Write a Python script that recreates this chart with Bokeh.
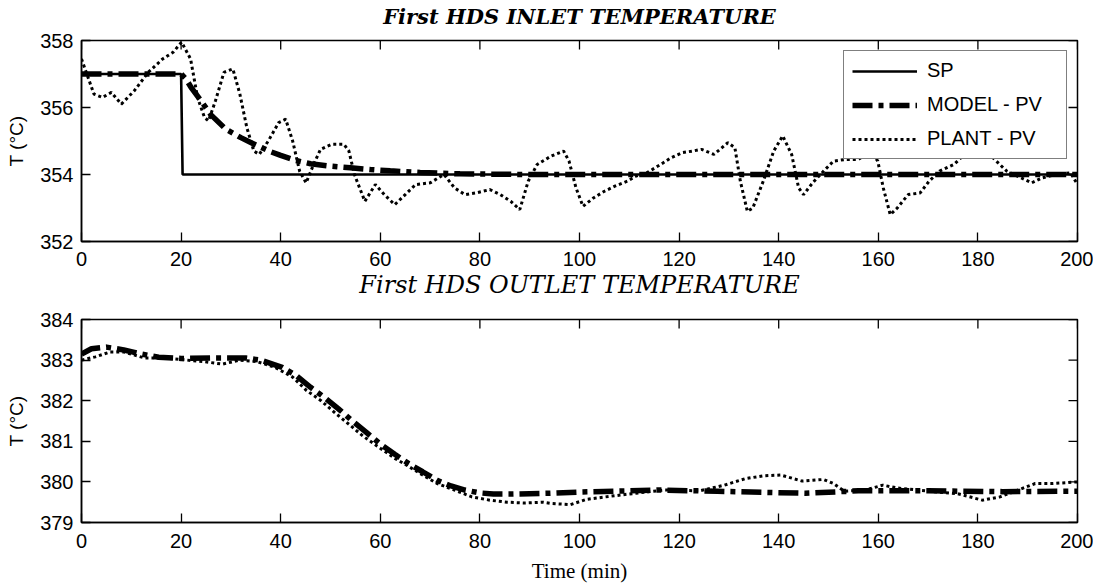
import numpy as np
from bokeh.plotting import figure
from bokeh.layouts import column
from bokeh.models import Range1d, Legend, LegendItem, FixedTicker, LinearAxis
from bokeh.embed import file_html
from bokeh.resources import INLINE

# ---------------- data ----------------
x_ticks = [0, 20, 40, 60, 80, 100, 120, 140, 160, 180, 200]
inlet_ticks = [352, 354, 356, 358]
outlet_ticks = [379, 380, 381, 382, 383, 384]

# Inlet: set point
t_sp = [0, 20, 20.3, 200]
sp_in = [357, 357, 354, 354]

# Inlet: model PV
t_model_in = [0, 20, 21, 22, 24, 26, 29, 32, 35, 38, 40, 43, 46, 50, 54, 58, 62, 68, 76, 90, 200]
model_in = [357, 357, 356.85, 356.6, 356.2, 355.78, 355.35, 355.1, 354.88, 354.68, 354.57, 354.42,
            354.32, 354.25, 354.2, 354.15, 354.11, 354.06, 354.02, 354.0, 354.0]

# Inlet: plant PV
t_plant_in = [0, 2.5, 4.2, 6, 8, 10.6, 13.4, 16.3, 18.4, 20.1, 21.9, 23.3, 24.7, 25.5, 26.9, 28.6,
              30.4, 31.8, 33.2, 34.6, 35.7, 37.5, 39.6, 41, 42.4, 43.8, 45.1, 46.6, 48, 50.2, 52.7,
              53.7, 54.8, 56.9, 59, 60.8, 62.9, 65, 67.1, 70, 72.8, 74.9, 77, 79.2, 82, 84.1, 86.2,
              88, 89.7, 91.5, 94.3, 96.8, 97.9, 99.3, 100.7, 102.8, 105, 107.1, 109.6, 111.3, 113.5,
              116.3, 118.4, 120.6, 122.7, 124.5, 127, 129.8, 131.2, 132.3, 133.7, 134.8, 136.9, 139,
              140.8, 142.6, 144, 145, 146.8, 149, 151, 153.5, 156, 158.5, 159.9, 161, 162.4, 163.8,
              166, 168.4, 170.2, 172.3, 175.2, 177.3, 180.1, 183, 185.8, 188.7, 190.8, 192.9, 195.7,
              198.6, 200]
plant_in = [357.45, 356.4, 356.3, 356.45, 356.1, 356.5, 357.05, 357.45, 357.65, 357.95, 357.45, 356.3,
            355.7, 355.6, 356.2, 357.05, 357.15, 356.4, 355.4, 354.7, 354.6, 355.0, 355.55, 355.65,
            355.0, 354.1, 353.75, 354.3, 354.75, 354.9, 354.9, 354.7, 354.0, 353.2, 353.7, 353.4,
            353.1, 353.4, 353.7, 353.75, 354.0, 353.6, 353.4, 353.45, 353.55, 353.4, 353.2, 352.95,
            353.8, 354.3, 354.55, 354.7, 354.4, 353.6, 353.05, 353.3, 353.5, 353.65, 353.8, 353.95,
            354.05, 354.3, 354.5, 354.65, 354.7, 354.75, 354.6, 354.95, 354.8, 353.8, 352.9, 353.0,
            353.8, 354.7, 355.15, 354.6, 353.6, 353.4, 353.75, 354.1, 354.4, 354.45, 354.45, 354.7,
            354.4, 353.6, 352.8, 353.0, 353.4, 353.45, 353.8, 354.1, 354.3, 354.6, 354.7, 354.5,
            354.1, 353.9, 353.75, 353.9, 354.0, 354.05, 353.7]

# Outlet: model PV
t_model_out = [0, 2, 5, 8.5, 12, 15.5, 20, 26, 33, 36, 40.3, 43.1, 46, 48.8, 51.6, 54.4, 57.2, 60,
               62.9, 65.7, 68.5, 71.4, 74.2, 77, 79.9, 82.7, 86.2, 94, 100, 115.6, 127.7, 145.4,
               156, 170, 185, 200]
model_out = [383.15, 383.28, 383.32, 383.25, 383.15, 383.07, 383.04, 383.05, 383.05, 383.0, 382.82,
             382.62, 382.33, 382.08, 381.8, 381.5, 381.22, 380.93, 380.68, 380.45, 380.25, 380.04,
             379.9, 379.8, 379.73, 379.7, 379.7, 379.72, 379.75, 379.8, 379.77, 379.72, 379.78,
             379.78, 379.76, 379.77]

# Outlet: plant PV
t_plant_out = [0, 2.8, 5.7, 8.5, 12.7, 17, 21.2, 24.7, 28.3, 31.8, 35.3, 38.9, 42.4, 45.2, 48.1, 50.9,
               53.7, 56.5, 59.4, 62.9, 65.7, 68.5, 71.4, 74.9, 78.4, 82, 85.5, 89, 92.6, 94.3, 98.2,
               101.4, 106.4, 111.3, 117, 124.1, 129.1, 133.3, 136.9, 140.4, 144.7, 149, 151, 153.2,
               157.4, 160.9, 163.8, 170.2, 175.9, 180.9, 184.4, 187.2, 191.5, 195, 200]
plant_out = [383.0, 383.08, 383.2, 383.2, 383.05, 383.05, 383.0, 382.96, 382.9, 383.0, 382.96, 382.82,
             382.58, 382.25, 382.0, 381.7, 381.42, 381.13, 380.88, 380.58, 380.38, 380.17, 379.96,
             379.8, 379.63, 379.55, 379.5, 379.48, 379.5, 379.47, 379.44, 379.57, 379.65, 379.72,
             379.8, 379.78, 379.92, 380.08, 380.15, 380.17, 380.02, 380.06, 379.96, 379.77, 379.8,
             379.92, 379.85, 379.77, 379.71, 379.55, 379.63, 379.76, 379.96, 379.96, 380.0]

SANS = "Liberation Sans"
MODEL_DASH = "20 6 5 6"
PLANT_DASH = "3 3"
X_MIN, X_MAX = 0, 200


def style_axis(ax, ticks, standoff):
    ax.ticker = FixedTicker(ticks=ticks)
    ax.major_tick_in = 9
    ax.major_tick_out = 0
    ax.minor_tick_in = 0
    ax.minor_tick_out = 0
    ax.axis_line_color = "black"
    ax.axis_line_width = 1.5
    ax.major_tick_line_color = "black"
    ax.major_tick_line_width = 1.3
    ax.major_label_text_font = SANS
    ax.major_label_text_font_size = "20px"
    ax.major_label_text_color = "black"
    ax.major_label_standoff = standoff


def title_axis(text, font, style, size, gap):
    # tick-less axis whose label carries a subplot title
    return LinearAxis(ticker=FixedTicker(ticks=[]), axis_label=text, axis_line_color=None,
                      major_tick_out=0, major_tick_in=0, minor_tick_out=0, minor_tick_in=0,
                      major_label_standoff=0, axis_label_standoff=gap,
                      axis_label_text_font=font, axis_label_text_font_style=style,
                      axis_label_text_font_size=size, axis_label_text_color="black")


def make_fig(height, top, bottom, yr, yticks):
    p = figure(width=1093, height=height, x_range=Range1d(X_MIN, X_MAX), y_range=Range1d(*yr),
               output_backend="svg", toolbar_location=None,
               min_border_left=81, min_border_right=16,
               min_border_top=top, min_border_bottom=bottom)
    p.background_fill_color = "white"
    p.border_fill_color = "white"
    p.outline_line_color = "black"
    p.outline_line_width = 1.5
    p.xgrid.visible = False
    p.ygrid.visible = False
    style_axis(p.below[0], x_ticks, 10)
    style_axis(p.left[0], yticks, 8)
    yl = p.left[0]
    yl.axis_label = "T (°C)"
    yl.axis_label_text_font = SANS
    yl.axis_label_text_font_size = "19px"
    yl.axis_label_text_font_style = "normal"
    yl.axis_label_text_color = "black"
    yl.axis_label_standoff = 10
    # inward tick marks on top and right edges (MATLAB box ticks)
    p.scatter(x=x_ticks, y=[yr[1]] * len(x_ticks), marker="dash", angle=np.pi / 2,
              size=18, line_color="black", line_width=1.3)
    p.scatter(x=[X_MAX] * len(yticks), y=yticks, marker="dash", angle=0,
              size=18, line_color="black", line_width=1.3)
    return p


# ---------------- top: inlet ----------------
p1 = make_fig(304, 40, 63, (352, 358), inlet_ticks)
p1.add_layout(title_axis("First HDS INLET TEMPERATURE", "DejaVu Serif", "bold italic", "21px", 12),
              "above")

r_sp = p1.line(t_sp, sp_in, line_color="black", line_width=2.6)
r_mod = p1.line(t_model_in, model_in, line_color="black", line_width=5.5, line_dash=MODEL_DASH)
r_pl = p1.line(t_plant_in, plant_in, line_color="black", line_width=3, line_dash=PLANT_DASH)

legend = Legend(items=[LegendItem(label="SP", renderers=[r_sp]),
                       LegendItem(label="MODEL - PV", renderers=[r_mod]),
                       LegendItem(label="PLANT - PV", renderers=[r_pl])],
                location="top_right", margin=10, padding=8, spacing=11,
                glyph_width=65, glyph_height=20, label_height=20, label_width=131,
                label_standoff=10, label_text_font=SANS, label_text_font_size="20px",
                label_text_color="black",
                border_line_color="black", border_line_width=1.2,
                background_fill_color="white", background_fill_alpha=1.0)
p1.add_layout(legend)

# title of the lower subplot sits in the gap under the upper one
p1.add_layout(title_axis("First HDS OUTLET TEMPERATURE", "DejaVu Serif", "italic", "24px", 2),
              "below")

# ---------------- bottom: outlet ----------------
p2 = make_fig(281, 15, 63, (379, 384), outlet_ticks)
xa = p2.below[0]
xa.major_label_standoff = 11
xa.axis_label = "Time (min)"
xa.axis_label_text_font = "Liberation Serif"
xa.axis_label_text_font_size = "21px"
xa.axis_label_text_font_style = "normal"
xa.axis_label_text_color = "black"
xa.axis_label_standoff = 8

p2.line(t_model_out, model_out, line_color="black", line_width=5.5, line_dash=MODEL_DASH)
p2.line(t_plant_out, plant_out, line_color="black", line_width=3, line_dash=PLANT_DASH)

layout = column(p1, p2, spacing=0)
open("out.html", "w").write(file_html(layout, INLINE))
